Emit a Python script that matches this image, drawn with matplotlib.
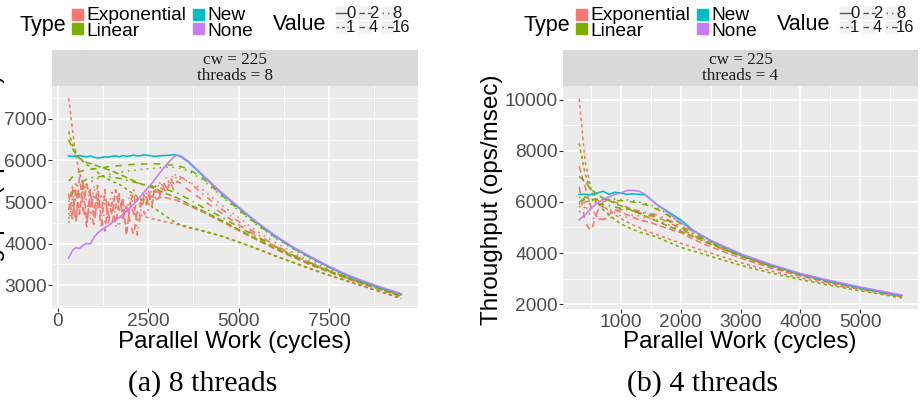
import matplotlib
matplotlib.use('Agg')
import matplotlib.pyplot as plt
from matplotlib.lines import Line2D
from matplotlib.patches import Rectangle

plt.rcParams['font.family'] = ['Liberation Sans', 'DejaVu Sans']

# ---------------- data ----------------
type_names = ['Exponential', 'Linear', 'New', 'None']
type_colors = {'Exponential': '#F8766D', 'Linear': '#7CAE00', 'New': '#00BFC4', 'None': '#C77CFF'}
value_levels = [0, 1, 2, 4, 8, 16]
value_dashes = {0: None, 1: (2, 2), 2: (4, 2), 4: (4, 4), 8: (1, 3), 16: (1, 3, 4, 3)}

# Left panel: cw = 225, threads = 8
l_x_fine = [300, 400, 500, 600, 700, 800, 900, 1000, 1100, 1200,
            1300, 1400, 1500, 1600, 1700, 1800, 1900, 2000, 2100, 2200,
            2300, 2400, 2500, 2600, 2700, 2800, 2900, 3000, 3100, 3200,
            3300, 3400, 3600, 4000, 4500, 5000, 5500, 6000, 6500, 7000,
            7500, 8000, 8500, 9000, 9500]
l_x_coarse = [300, 400, 500, 600, 800, 1000, 1250, 1500, 1750, 2000,
              2250, 2500, 2750, 3000, 3300, 3600, 4000, 4500, 5000, 5500,
              6000, 6500, 7000, 7500, 8000, 8500, 9000, 9500]

l_exp_1 = [7500, 6800, 6100, 5700, 5450, 5300, 5200, 5120, 5050, 5000,
           4950, 4920, 4900, 4880, 4850, 4800, 4780, 4750, 4720, 4700,
           4680, 4650, 4620, 4600, 4580, 4560, 4540, 4520, 4500, 4480,
           4460, 4430, 4380, 4300, 4180, 4030, 3870, 3700, 3540, 3380,
           3230, 3090, 2950, 2810, 2670]
l_exp_2 = [5200, 4600, 5300, 4700, 5500, 4500, 5200, 4700, 5400, 4600,
           4300, 5000, 4700, 5300, 4800, 5100, 4200, 5000, 4700, 5100,
           4900, 5200, 5000, 5150, 5050, 5100, 5120, 5100, 5080, 5060,
           5040, 5000, 4920, 4760, 4540, 4310, 4090, 3870, 3670, 3480,
           3310, 3150, 3000, 2860, 2720]
l_exp_4 = [4800, 5400, 4500, 5600, 4900, 4400, 5300, 4600, 5000, 4400,
           5200, 4700, 4500, 4900, 5200, 4600, 4900, 4500, 4200, 4800,
           5000, 4700, 5200, 4900, 5300, 5100, 5400, 5200, 5500, 5300,
           5500, 5450, 5300, 5050, 4750, 4450, 4180, 3930, 3710, 3510,
           3330, 3170, 3020, 2880, 2740]
l_exp_8 = [4500, 5000, 5500, 4800, 5300, 5000, 4600, 5400, 4900, 5200,
           4500, 4800, 5300, 4600, 4400, 5000, 4700, 5200, 4900, 4500,
           5000, 5300, 4800, 5400, 5100, 5500, 5300, 5600, 5400, 5700,
           5600, 5550, 5500, 5300, 4950, 4620, 4300, 4030, 3780, 3570,
           3370, 3200, 3040, 2890, 2750]
l_exp_16 = [4700, 5100, 4600, 5200, 4800, 5500, 4900, 4400, 5100, 4800,
            5300, 4500, 5000, 4400, 5100, 4800, 4300, 4900, 5300, 4200,
            4800, 5100, 5300, 5000, 5400, 5200, 5500, 5350, 5600, 5450,
            5650, 5600, 5500, 5200, 4850, 4530, 4230, 3960, 3730, 3530,
            3340, 3180, 3030, 2880, 2740]

l_lin_1 = [6700, 6400, 6200, 6050, 5900, 5780, 5620, 5500, 5400, 5250,
           5100, 4950, 4800, 4650, 4480, 4400, 4310, 4190, 4040, 3880,
           3710, 3550, 3390, 3240, 3100, 2960, 2820, 2680]
l_lin_2 = [6500, 6300, 6150, 6050, 5950, 5900, 5820, 5750, 5650, 5550,
           5450, 5380, 5300, 5200, 5100, 4960, 4790, 4570, 4340, 4110,
           3890, 3690, 3500, 3330, 3170, 3020, 2880, 2740]
l_lin_4 = [5500, 5600, 5680, 5730, 5780, 5800, 5830, 5860, 5880, 5900,
           5910, 5920, 5920, 5900, 5880, 5800, 5580, 5190, 4820, 4470,
           4160, 3890, 3650, 3430, 3230, 3060, 2910, 2770]
l_lin_8 = [4600, 4900, 5100, 5250, 5420, 5530, 5620, 5680, 5720, 5750,
           5780, 5800, 5820, 5840, 5830, 5760, 5540, 5160, 4790, 4450,
           4140, 3870, 3630, 3410, 3210, 3040, 2890, 2750]
l_lin_16 = [5000, 5200, 5350, 5450, 5550, 5600, 5620, 5600, 5560, 5500,
            5450, 5400, 5350, 5300, 5220, 5080, 4880, 4650, 4400, 4160,
            3930, 3720, 3530, 3350, 3190, 3040, 2900, 2750]

l_new = [6110, 6100, 6110, 6120, 6100, 6090, 6110, 6080, 6060, 6070,
         6090, 6080, 6100, 6110, 6090, 6120, 6100, 6110, 6130, 6110,
         6120, 6140, 6120, 6110, 6100, 6110, 6120, 6120, 6130, 6140,
         6130, 6090, 5970, 5640, 5230, 4860, 4500, 4180, 3900, 3660,
         3430, 3230, 3060, 2910, 2780]
l_none = [3650, 3820, 3900, 3880, 3960, 4000, 3990, 4150, 4250, 4320,
          4380, 4430, 4500, 4560, 4630, 4700, 4780, 4860, 4950, 5050,
          5150, 5250, 5350, 5450, 5560, 5680, 5790, 5890, 5990, 6080,
          6130, 6110, 5990, 5660, 5250, 4880, 4520, 4200, 3920, 3680,
          3450, 3250, 3080, 2930, 2790]

# Right panel: cw = 225, threads = 4
r_x = [300, 400, 500, 600, 700, 800, 900, 1000, 1100, 1200,
       1300, 1400, 1500, 1600, 1800, 2000, 2200, 2500, 3000, 3500,
       4000, 4500, 5000, 5500, 5700]
r_exp_1 = [10050, 7600, 6500, 6100, 5850, 5650, 5500, 5350, 5220, 5100,
           5000, 4900, 4800, 4720, 4550, 4380, 4230, 4000, 3620, 3300,
           3020, 2780, 2570, 2360, 2280]
r_exp_2 = [7400, 6600, 5800, 5400, 5300, 5500, 5700, 5600, 5500, 5400,
           5300, 5250, 5200, 5100, 4950, 4800, 4550, 4250, 3800, 3420,
           3100, 2830, 2600, 2380, 2300]
r_exp_4 = [6600, 5200, 4850, 5600, 6000, 6100, 6000, 5900, 5800, 5700,
           5600, 5500, 5450, 5400, 5200, 4950, 4700, 4350, 3880, 3480,
           3140, 2860, 2620, 2400, 2310]
r_exp_8 = [6200, 5900, 5400, 5300, 5350, 5300, 5600, 5450, 5400, 5500,
           5450, 5380, 5350, 5300, 5100, 4900, 4700, 4400, 3900, 3500,
           3150, 2870, 2630, 2400, 2320]
r_exp_16 = [5800, 6000, 6050, 5950, 5800, 5700, 5650, 5700, 5750, 5700,
            5650, 5600, 5550, 5500, 5300, 5050, 4800, 4450, 3920, 3520,
            3170, 2880, 2640, 2410, 2330]
r_lin_1 = [8300, 7100, 6400, 6000, 5700, 5500, 5300, 5150, 5020, 4920,
           4830, 4760, 4700, 4620, 4420, 4220, 4080, 3870, 3520, 3220,
           2960, 2730, 2520, 2320, 2240]
r_lin_2 = [7000, 6800, 6500, 6300, 6150, 6050, 5950, 5850, 5750, 5650,
           5550, 5450, 5350, 5250, 5050, 4850, 4650, 4350, 3880, 3480,
           3140, 2860, 2620, 2400, 2310]
r_lin_4 = [6000, 6100, 6100, 6100, 6100, 6080, 6060, 6050, 6030, 6000,
           5950, 5900, 5820, 5720, 5450, 5150, 4850, 4450, 3930, 3530,
           3170, 2890, 2640, 2410, 2320]
r_lin_8 = [5600, 5800, 5950, 6050, 6080, 6100, 6120, 6100, 6080, 6050,
           6000, 5950, 5880, 5780, 5500, 5180, 4880, 4480, 3950, 3540,
           3180, 2890, 2650, 2420, 2330]
r_lin_16 = [5900, 6200, 6100, 5950, 5900, 5850, 5800, 5750, 5700, 5650,
            5600, 5550, 5500, 5420, 5250, 5000, 4750, 4400, 3900, 3500,
            3150, 2870, 2630, 2400, 2310]
r_new = [6300, 6300, 6280, 6350, 6420, 6300, 6380, 6350, 6300, 6320,
         6300, 6280, 6100, 5900, 5600, 5300, 4900, 4480, 3950, 3540,
         3180, 2890, 2640, 2410, 2330]
r_none = [5300, 5500, 5750, 5950, 6100, 6200, 6300, 6350, 6450, 6460,
          6420, 6300, 6100, 5900, 5550, 5200, 4880, 4500, 3970, 3560,
          3200, 2920, 2670, 2440, 2350]

left_series = [
    ('Exponential', 1, l_x_fine, l_exp_1), ('Exponential', 2, l_x_fine, l_exp_2),
    ('Exponential', 4, l_x_fine, l_exp_4), ('Exponential', 8, l_x_fine, l_exp_8),
    ('Exponential', 16, l_x_fine, l_exp_16),
    ('Linear', 1, l_x_coarse, l_lin_1), ('Linear', 2, l_x_coarse, l_lin_2),
    ('Linear', 4, l_x_coarse, l_lin_4), ('Linear', 8, l_x_coarse, l_lin_8),
    ('Linear', 16, l_x_coarse, l_lin_16),
    ('New', 0, l_x_fine, l_new), ('None', 0, l_x_fine, l_none),
]
right_series = [
    ('Exponential', 1, r_x, r_exp_1), ('Exponential', 2, r_x, r_exp_2),
    ('Exponential', 4, r_x, r_exp_4), ('Exponential', 8, r_x, r_exp_8),
    ('Exponential', 16, r_x, r_exp_16),
    ('Linear', 1, r_x, r_lin_1), ('Linear', 2, r_x, r_lin_2),
    ('Linear', 4, r_x, r_lin_4), ('Linear', 8, r_x, r_lin_8),
    ('Linear', 16, r_x, r_lin_16),
    ('New', 0, r_x, r_new), ('None', 0, r_x, r_none),
]

left_xticks = [0, 2500, 5000, 7500]
left_yticks = [3000, 4000, 5000, 6000, 7000]
right_xticks = [1000, 2000, 3000, 4000, 5000]
right_yticks = [2000, 4000, 6000, 8000, 10000]

# ---------------- figure ----------------
W, H = 923, 417
fig = plt.figure(figsize=(W / 100, H / 100), dpi=100)
fig.patch.set_facecolor('white')


def box(x0, y0, x1, y1):
    return [x0 / W, 1 - y1 / H, (x1 - x0) / W, (y1 - y0) / H]


TICKC = '#4D4D4D'
serif = ['Liberation Serif', 'DejaVu Serif']


def panel(rect, strip_rect, series, xlim, ylim, xt, yt, xminor, yminor, strip_txt):
    ax = fig.add_axes(rect)
    ax.set_facecolor('#EBEBEB')
    for s in ax.spines.values():
        s.set_visible(False)
    ax.set_xlim(*xlim)
    ax.set_ylim(*ylim)
    ax.set_xticks(xt)
    ax.set_yticks(yt)
    ax.set_xticks(xminor, minor=True)
    ax.set_yticks(yminor, minor=True)
    ax.tick_params(which='minor', length=0)
    ax.tick_params(which='major', length=2.6, width=0.8, color='#333333',
                   labelsize=13.8, labelcolor=TICKC, pad=1.0)
    ax.grid(which='major', color='white', lw=1.2)
    ax.grid(which='minor', color='white', lw=0.6)
    ax.set_axisbelow(True)
    for t, v, xs, ys in series:
        ln, = ax.plot(xs, ys, color=type_colors[t], lw=1.15)
        if value_dashes[v] is not None:
            ln.set_dashes(value_dashes[v])
    sax = fig.add_axes(strip_rect)
    sax.set_facecolor('#D9D9D9')
    sax.set_xticks([])
    sax.set_yticks([])
    for s in sax.spines.values():
        s.set_visible(False)
    sax.text(0.5, 0.5, strip_txt, ha='center', va='center', fontsize=12.3,
             family=serif, color='#1A1A1A', linespacing=0.95, transform=sax.transAxes)
    return ax


axL = panel(box(52, 86, 418, 308), box(52, 50, 418, 86), left_series,
            (-160, 9960), (2446, 7795), left_xticks, left_yticks,
            [1250, 3750, 6250, 8750], [2500, 3500, 4500, 5500, 6500, 7500],
            'cw = 225\nthreads = 8')
axR = panel(box(563, 86, 918, 309), box(563, 50, 918, 86), right_series,
            (30, 5970), (1805, 10546), right_xticks, right_yticks,
            [500, 1500, 2500, 3500, 4500, 5500], [3000, 5000, 7000, 9000],
            'cw = 225\nthreads = 4')

# axis titles
for cx in (235, 740):
    fig.text(cx / W, 1 - 342 / H, 'Parallel Work (cycles)', ha='center', va='center', fontsize=17.5)
fig.text(492 / W, 1 - 200 / H, 'Throughput (ops/msec)', ha='center', va='center',
         rotation=90, fontsize=17.5)
fig.text(-6 / W, 1 - 200 / H, 'Throughput (ops/msec)', ha='center', va='center',
         rotation=90, fontsize=17.5)

# captions
fig.text(203 / W, 1 - 384 / H, '(a) 8 threads', ha='center', va='center', fontsize=21.5, family=serif)
fig.text(703 / W, 1 - 384 / H, '(b) 4 threads', ha='center', va='center', fontsize=21.5, family=serif)

# legends
for off in (0, 504):
    fig.text((20 + off) / W, 1 - 25 / H, 'Type', ha='left', va='center', fontsize=15.5)
    items = [('Exponential', 72, 14, 15), ('Linear', 72, 28, 31),
             ('New', 193, 14, 15), ('None', 193, 28, 31)]
    for name, kx, ky, ty in items:
        fig.patches.append(Rectangle(((kx + off) / W, 1 - (ky + 5.5) / H), 11 / W, 11 / H,
                                     transform=fig.transFigure, color=type_colors[name]))
        fig.text((kx + off + 14) / W, 1 - ty / H, name, ha='left', va='center', fontsize=13.8)
    fig.text((273 + off) / W, 1 - 25 / H, 'Value', ha='left', va='center', fontsize=15.5)
    for i, v in enumerate(value_levels):
        col, row = i // 2, i % 2
        kx = 273 + off + 63 + 23 * col
        ky = 13 + 14 * row
        fig.patches.append(Rectangle((kx / W, 1 - (ky + 6) / H), 12 / W, 12 / H,
                                     transform=fig.transFigure, color='#F2F2F2'))
        ln = Line2D([kx / W, (kx + 12) / W], [1 - ky / H, 1 - ky / H], transform=fig.transFigure,
                    color='#555555', lw=1.0)
        if value_dashes[v] is not None:
            ln.set_dashes(value_dashes[v])
        fig.lines.append(ln)
        fig.text((kx + 10) / W, 1 - (ky + 1) / H, str(v), ha='left', va='center', fontsize=12,
                 color='#1A1A1A')

fig.savefig('out.png', dpi=100)
